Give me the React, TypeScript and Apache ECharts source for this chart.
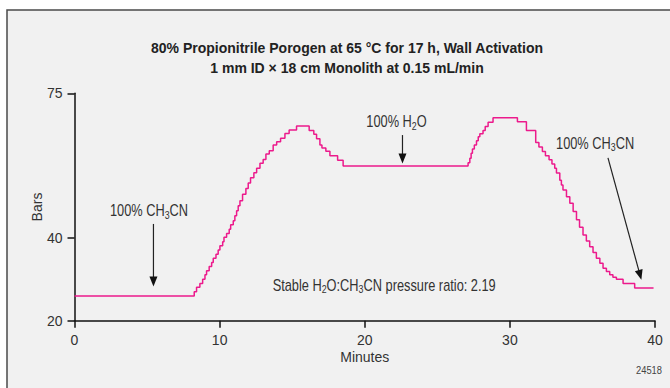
import React, { useEffect, useRef } from 'react';
import * as echarts from 'echarts';

// Pressure trace (step line): minutes vs bars
const minutes = [
  0, 8.25, 8.41, 8.64, 8.83, 8.99, 9.1, 9.28, 9.45, 9.56, 9.75, 9.9, 10.02, 10.21, 10.3, 10.48,
  10.66, 10.76, 10.94, 11.05, 11.17, 11.28, 11.4, 11.58, 11.81, 11.97, 12.13, 12.36, 12.55, 12.78,
  13.0, 13.19, 13.42, 13.69, 13.93, 14.2, 14.5, 14.79, 15.3,
  16.17, 16.49, 16.68, 16.91, 17.05, 17.32, 17.6, 18.13, 18.51,
  27.12, 27.24, 27.33, 27.42, 27.55, 27.7, 27.82, 27.93, 28.15, 28.3, 28.5, 28.84,
  30.52, 31.14, 31.78, 32.0, 32.24, 32.45, 32.7, 32.9, 33.09, 33.21, 33.44, 33.55, 33.66, 33.9,
  34.13, 34.36, 34.59, 34.8, 35.04, 35.27, 35.5, 35.73, 35.96, 36.2, 36.42, 36.65, 36.88, 37.1,
  37.34, 37.8, 38.6, 39.9,
];
const bars = [
  26.0, 27.0, 28.1, 29.0, 30.0, 31.1, 32.1, 33.1, 34.1, 35.1, 36.1, 37.1, 38.1, 39.1, 40.2, 41.1,
  42.1, 43.2, 44.2, 45.4, 46.6, 47.8, 49.0, 50.6, 52.0, 53.3, 54.6, 55.8, 56.9, 58.1,
  59.0, 60.3, 61.1, 62.5, 63.3, 64.1, 65.3, 66.1, 67.1,
  66.0, 65.1, 64.0, 62.5, 61.8, 61.0, 59.9, 58.8, 57.4,
  58.2, 59.3, 60.5, 61.5, 62.5, 63.5, 64.5, 65.2, 66.0, 67.0, 68.0, 69.1,
  68.1, 66.0, 63.1, 62.0, 60.9, 59.9, 58.9, 57.9, 56.9, 55.7, 54.0, 52.8, 51.6, 50.0,
  48.4, 46.4, 44.4, 42.6, 40.7, 39.3, 37.9, 36.5, 35.1, 33.9, 32.7, 31.9, 31.1, 30.5,
  30.0, 29.0, 27.9, 27.9,
];

const xTicks = [0, 10, 20, 30, 40];
const yTicks = [20, 40, 75];

const titleLines = [
  '80% Propionitrile Porogen at 65 °C for 17 h, Wall Activation',
  '1 mm ID × 18 cm Monolith at 0.15 mL/min',
];

// Annotation texts (rich formatted) and their anchors in data space [minutes, bars]
const annoTexts = [
  '{t|100% CH}{s|3}{t|CN}',
  '{t|100% H}{s|2}{t|O}',
  '{t|100% CH}{s|3}{t|CN}',
  '{t|Stable H}{s|2}{t|O:CH}{s|3}{t|CN pressure ratio: 2.19}',
];
const annoAnchors = [
  [5.13, 46.6],
  [22.19, 68.1],
  [35.87, 62.9],
  [21.34, 28.6],
];
// Arrows: [fromMinutes, fromBars, toMinutes, toBars]
const arrows = [
  [5.44, 43.4, 5.44, 28.3],
  [22.6, 64.9, 22.6, 58.0],
  [36.76, 59.4, 39.06, 29.9],
];

const FONT = "'Liberation Sans', Arial, sans-serif";
const TRACE = '#ec1a8c';

export default function App() {
  const ref = useRef<HTMLDivElement>(null);
  useEffect(() => {
    const chart = echarts.init(ref.current!, null, { renderer: 'svg' });
    const axisColor = '#111';
    chart.setOption({
      animation: false,
      backgroundColor: '#ffffff',
      title: {
        text: titleLines.join('\n'),
        left: 342,
        textAlign: 'center',
        top: 33,
        textStyle: { fontSize: 14, fontWeight: 'bold', fontFamily: FONT, color: '#222', lineHeight: 20 },
      },
      grid: { left: 74.5, right: 15, top: 93.3, bottom: 67.3, outerBoundsMode: 'none' },
      xAxis: {
        type: 'value',
        min: 0,
        max: 40,
        interval: 10,
        axisLine: { show: true, lineStyle: { color: axisColor, width: 1.5 } },
        axisTick: { show: true, length: 7, customValues: xTicks, lineStyle: { color: axisColor, width: 1.5 } },
        axisLabel: { color: '#333', fontSize: 14, fontFamily: FONT, margin: 12, customValues: xTicks },
        splitLine: { show: false },
        name: 'Minutes',
        nameLocation: 'middle',
        nameGap: 29,
        nameMoveOverlap: false,
        nameTextStyle: { color: '#333', fontSize: 14, fontFamily: FONT },
      },
      yAxis: {
        type: 'value',
        min: 20,
        max: 75,
        interval: 5,
        axisLine: { show: true, lineStyle: { color: axisColor, width: 1.5 } },
        axisTick: { show: true, length: 7, customValues: yTicks, lineStyle: { color: axisColor, width: 1.5 } },
        axisLabel: { color: '#333', fontSize: 14, fontFamily: FONT, margin: 12, customValues: yTicks },
        splitLine: { show: false },
        name: 'Bars',
        nameLocation: 'middle',
        nameGap: 31,
        nameMoveOverlap: false,
        nameTextStyle: { color: '#333', fontSize: 14, fontFamily: FONT },
      },
      series: [
        {
          type: 'line',
          step: 'end',
          showSymbol: false,
          data: minutes.map((t, i) => [t, bars[i]]),
          lineStyle: { color: TRACE, width: 1.5 },
          z: 3,
        },
      ],
    });

    const px = (p: number[]) => chart.convertToPixel({ gridIndex: 0 }, p) as number[];
    const rich = {
      t: { fontSize: 16, fontFamily: FONT, fill: '#333', lineHeight: 19 },
      s: { fontSize: 11, fontFamily: FONT, fill: '#333', lineHeight: 11, verticalAlign: 'bottom' },
    };
    const elements: any[] = [
      {
        type: 'rect',
        z: -100,
        silent: true,
        shape: { x: 7, y: 10, width: 720, height: 420 },
        style: { fill: '#f1f1f1', stroke: '#4a4a4a', lineWidth: 1.5 },
      },
      {
        type: 'text',
        x: 649,
        y: 370,
        scaleX: 0.85,
        style: { text: '24518', fontSize: 11, fontFamily: FONT, fill: '#444', align: 'center', verticalAlign: 'middle' },
      },
    ];
    annoTexts.forEach((txt, i) => {
      const [x, y] = px(annoAnchors[i]);
      elements.push({
        type: 'text',
        x,
        y,
        scaleX: 0.8,
        style: { text: txt, rich, align: 'center', verticalAlign: 'middle', fontFamily: FONT, fontSize: 16, fill: '#333' },
      });
    });
    arrows.forEach((a) => {
      const [x1, y1] = px([a[0], a[1]]);
      const [x2, y2] = px([a[2], a[3]]);
      const dx = x2 - x1;
      const dy = y2 - y1;
      const len = Math.sqrt(dx * dx + dy * dy);
      const ux = dx / len;
      const uy = dy / len;
      const headL = 10;
      const headW = 4;
      const bx = x2 - ux * headL;
      const by = y2 - uy * headL;
      elements.push({
        type: 'line',
        shape: { x1, y1, x2: bx + ux, y2: by + uy },
        style: { stroke: '#222', lineWidth: 1.2 },
      });
      elements.push({
        type: 'polygon',
        shape: {
          points: [
            [x2, y2],
            [bx - uy * headW, by + ux * headW],
            [bx + uy * headW, by - ux * headW],
          ],
        },
        style: { fill: '#111' },
      });
    });
    chart.setOption({ graphic: { elements } });
    return () => chart.dispose();
  }, []);
  return (
    <div
      ref={ref}
      style={{ position: 'absolute', left: 0, top: 0, width: 670, height: 388 }}
    />
  );
}
